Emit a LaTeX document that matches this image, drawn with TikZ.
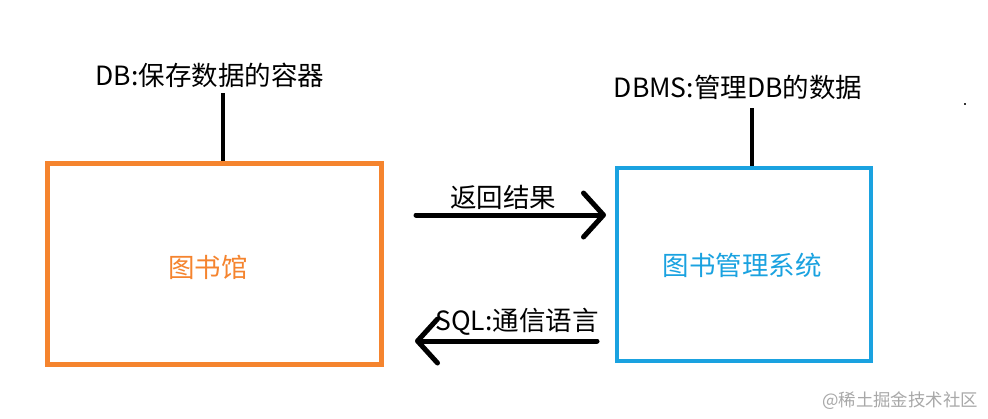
\documentclass[tikz,border=0pt]{standalone}
\usepackage{fontspec}
\setmainfont{Noto Sans CJK SC}
\usetikzlibrary{arrows.meta}
\definecolor{borange}{HTML}{F5842E}
\definecolor{bblue}{HTML}{1AA2E0}
\definecolor{wmgrey}{HTML}{A8A8A8}
\tikzset{
  box/.style={draw, inner sep=0pt, fill=white},
  lbl/.style={inner sep=0pt, font=\fontsize{26.5}{30}\selectfont},
  stem/.style={line width=4.5pt},
  flow/.style={line width=5pt, line cap=round, -{Straight Barb[length=20pt,width=44pt,round]}},
}
\begin{document}
\begin{tikzpicture}[x=1pt,y=-1pt]
\useasboundingbox[fill=white] (0,0) rectangle (988,418);
% boxes
\node[box, draw=borange, line width=5pt, minimum width=334pt, minimum height=201pt] (lib) at (214,263.5) {};
\node[box, draw=bblue, line width=4pt, minimum width=254pt, minimum height=193pt] (sys) at (744,264.5) {};
\node[lbl, text=borange] (libtxt) at (208,267) {图书馆};
\node[lbl, text=bblue] (systxt) at (742,265) {图书管理系统};
% top labels
\node[lbl] (db) at (210,75) {DB:保存数据的容器};
\node[lbl] (dbms) at (738,87) {DBMS:管理DB的数据};
\coordinate (dbstem) at (223,93);
\coordinate (dbmsstem) at (752,108);
\draw[stem] (dbstem) -- (dbstem |- lib.north);
\draw[stem] (dbmsstem) -- (dbmsstem |- sys.north);
% arrows
\coordinate (a1s) at (416,215);
\coordinate (a1e) at (606,215);
\coordinate (a2s) at (597,341);
\coordinate (a2e) at (415,341);
\draw[flow] (a1s) -- (a1e);
\draw[flow] (a2s) -- (a2e);
\node[lbl] (ret) at (503,197) {返回结果};
\node[lbl] (sql) at (517,322) {SQL:通信语言};
% watermark and dot
\node[inner sep=0pt, text=wmgrey, font=\fontsize{17.4}{20}\selectfont] (wm) at (900,401) {@稀土掘金技术社区};
\fill[black!80] (964,103) rectangle (966,105);
\end{tikzpicture}
\end{document}
